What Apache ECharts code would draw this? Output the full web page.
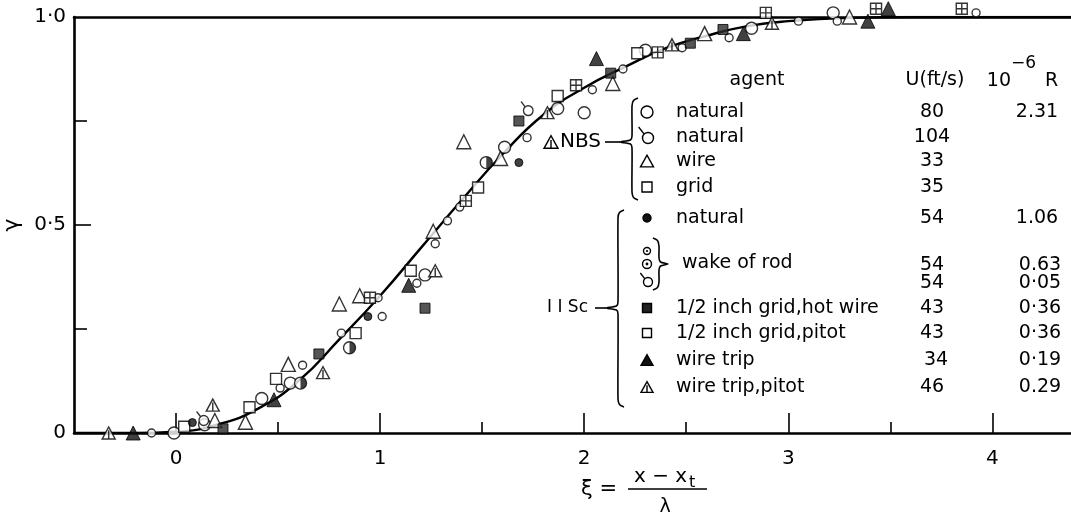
<!DOCTYPE html>
<html>
<head>
<meta charset="utf-8">
<script src="https://cdn.jsdelivr.net/npm/echarts@6/dist/echarts.min.js"></script>
<style>
  html, body { margin: 0; background: #fff; }
  #chart { width: 1071px; height: 525px; }
</style>
</head>
<body>
<div id="chart"></div>
<script>
// fitted curve
const curveXi    = [-0.5, -0.2, 0, 0.2, 0.4, 0.6, 0.8, 1.0, 1.2, 1.4, 1.6, 1.8, 2.0, 2.2, 2.4, 2.6, 2.8, 3.0, 3.3, 3.6, 4.0, 4.4];
const curveGamma = [0, 0, 0.003, 0.02, 0.058, 0.125, 0.225, 0.33, 0.445, 0.56, 0.67, 0.765, 0.83, 0.88, 0.925, 0.955, 0.978, 0.99, 0.998, 1.0, 1.0, 1.0];

// measured points [xi, gamma]
const bigCircles    = [[-0.01, 0], [0.14, 0.02], [0.42, 0.083], [0.56, 0.12], [1.22, 0.38], [1.61, 0.687], [1.87, 0.78], [2.0, 0.77], [2.3, 0.92], [2.82, 0.973], [3.22, 1.01]];
const smallCircles  = [[-0.12, 0], [0.51, 0.108], [0.62, 0.163], [0.81, 0.24], [0.99, 0.325], [1.01, 0.28], [1.18, 0.36], [1.27, 0.455], [1.33, 0.51], [1.39, 0.543], [1.72, 0.71], [2.04, 0.825], [2.19, 0.875], [2.48, 0.926], [2.71, 0.95], [3.05, 0.99], [3.24, 0.99], [3.92, 1.01]];
const tailCircles   = [[0.13, 0.035], [1.72, 0.78]];
const openTriangles = [[0.19, 0.03], [0.34, 0.026], [0.55, 0.165], [0.8, 0.31], [0.9, 0.33], [1.26, 0.485], [1.41, 0.7], [1.59, 0.66], [2.14, 0.84], [2.59, 0.96], [3.3, 1.0]];
const openSquares   = [[0.04, 0.015], [0.36, 0.062], [0.49, 0.13], [0.88, 0.24], [1.15, 0.39], [1.48, 0.59], [1.87, 0.81], [2.26, 0.913]];
const crossSquares  = [[0.95, 0.325], [1.42, 0.558], [1.96, 0.836], [2.36, 0.915], [2.89, 1.01], [3.43, 1.02], [3.85, 1.02]];
const filledDots    = [[0.08, 0.025], [0.94, 0.28], [1.68, 0.65]];
const halfCircles   = [[0.61, 0.12], [0.85, 0.205], [1.52, 0.65]];
const hotWire       = [[0.23, 0.01], [0.7, 0.19], [1.22, 0.3], [1.68, 0.75], [2.13, 0.865], [2.52, 0.937], [2.68, 0.97]];
const wireTrip      = [[-0.21, 0], [0.48, 0.08], [1.14, 0.355], [2.06, 0.9], [2.78, 0.96], [3.39, 0.99], [3.49, 1.02]];
const wireTripPitot = [[-0.33, 0], [0.18, 0.067], [0.72, 0.145], [1.27, 0.39], [1.82, 0.77], [2.43, 0.933], [2.92, 0.985]];

// axes
const xLabelValues = [0, 1, 2, 3, 4];
const xMajorTicks  = [0, 1, 2, 3, 4];
const xMinorTicks  = [0.5, 1.5, 2.5, 3.5];
const yLabelValues = [0, 0.5, 1];
const yTickLabels  = ['0', '0·5', '1·0'];
const yMajorTicks  = [0.5];
const yMinorTicks  = [0.25, 0.75];

// key table
const nbsAgents  = ['natural', 'natural', 'wire', 'grid'];
const nbsU       = ['80', '104', '33', '35'];
const nbsR       = ['2.31', '', '', ''];
const iiscAgents = ['natural', 'wake of rod', '1/2 inch grid,hot wire', '1/2 inch grid,pitot', 'wire trip', 'wire trip,pitot'];
const iiscU      = ['54', '54', '43', '43', '34', '46'];
const iiscR      = ['1.06', '0.63', '0·36', '0·36', '0·19', '0.29'];
const wakeExtraU = '54';
const wakeExtraR = '0·05';

const FONT = 'DejaVu Sans';
const INK = '#000';
const KEY = 19;

const P_TAIL = 'path://M16 13 A6 6 0 1 1 4 13 A6 6 0 1 1 16 13 Z M6.2 8.6 L1 2';
const P_TRI_LINE = 'path://M0 20 L10 2 L20 20 Z M10 7 L10 20';
const P_CROSS_SQ = 'path://M0 0 H20 V20 H0 Z M10 0 V20 M0 10 H20';
const P_HALF = 'path://M0 0 A10 10 0 0 1 0 20 Z';

const openStyle = { color: '#fff', borderColor: INK, borderWidth: 1.4 };
const solidStyle = { color: '#111', borderColor: INK, borderWidth: 1 };

function scatter(name, data, symbol, size, style, extra) {
  return Object.assign({
    name, type: 'scatter', data, symbol, symbolSize: size,
    itemStyle: style, clip: false, z: 5, silent: true
  }, extra || {});
}

// ---- key graphics ----
function txt(x, y, s, size, align, extra) {
  return Object.assign({
    type: 'text', x, y, silent: true,
    style: { text: s, fill: INK, font: `${size || KEY}px "${FONT}"`, textAlign: align || 'left', textVerticalAlign: 'middle' }
  }, extra || {});
}
function brace(x, y1, y2, ym, w, dir) {
  const d = dir || 1; // 1 = "{", -1 = "}"
  return {
    type: 'polyline', silent: true,
    shape: { points: [[x + 6 * d, y1], [x + 1.5 * d, y1 + 2.5], [x, y1 + 8], [x, ym - 6], [x - 1.5 * d, ym - 2], [x - w * d, ym], [x - 1.5 * d, ym + 2], [x, ym + 6], [x, y2 - 8], [x + 1.5 * d, y2 - 2.5], [x + 6 * d, y2]], smooth: 0.25 },
    style: { stroke: INK, lineWidth: 1.6, fill: null }
  };
}
function oCircle(cx, cy, r, fill) {
  return { type: 'circle', silent: true, shape: { cx, cy, r }, style: { fill: fill || '#fff', stroke: INK, lineWidth: 1.4 } };
}
function tri(cx, cy, s, fill, withLine) {
  const h = s * 0.9;
  const els = [{ type: 'polygon', silent: true, shape: { points: [[cx - s / 2, cy + h / 2], [cx, cy - h / 2], [cx + s / 2, cy + h / 2]] }, style: { fill: fill || '#fff', stroke: INK, lineWidth: 1.4 } }];
  if (withLine) els.push({ type: 'line', silent: true, shape: { x1: cx, y1: cy - h / 6, x2: cx, y2: cy + h / 2 }, style: { stroke: INK, lineWidth: 1.4 } });
  return els;
}
function sq(cx, cy, s, fill) {
  return { type: 'rect', silent: true, shape: { x: cx - s / 2, y: cy - s / 2, width: s, height: s }, style: { fill: fill || '#fff', stroke: INK, lineWidth: 1.4 } };
}
function tail(cx, cy, r) {
  return [oCircle(cx, cy, r), { type: 'line', silent: true, shape: { x1: cx - r * 0.7, y1: cy - r * 0.7, x2: cx - r * 1.7, y2: cy - r * 2 }, style: { stroke: INK, lineWidth: 1.4 } }];
}

const symX = 647, agentX = 676, uX = 932, rX = 1040;
const nbsY = [112, 137, 161, 187];
const iiscY = [218, 263, 308, 333, 360, 387];

const graphics = [];
// header
graphics.push(txt(757, 80, 'agent', KEY, 'center'));
graphics.push(txt(935, 80, 'U(ft/s)', KEY, 'center'));
graphics.push(txt(1011, 81, '10', KEY, 'right'));
graphics.push(txt(1011, 64, '−6', 17, 'left'));
graphics.push(txt(1045, 81, 'R', KEY, 'left'));
// NBS rows
nbsAgents.forEach((a, i) => {
  graphics.push(txt(agentX, nbsY[i], a));
  graphics.push(txt(uX, nbsY[i], nbsU[i], KEY, 'center'));
  if (nbsR[i]) graphics.push(txt(rX - 3, nbsY[i], nbsR[i], KEY, 'center'));
});
graphics.push(oCircle(symX, nbsY[0], 6));
graphics.push(...tail(symX + 1, nbsY[1] + 1, 5.5));
graphics.push(...tri(symX, nbsY[2], 13));
graphics.push(sq(symX, nbsY[3], 10));
graphics.push(brace(632, 98, 200, 142, 12));
graphics.push({ type: 'line', silent: true, shape: { x1: 605, y1: 142, x2: 620, y2: 142 }, style: { stroke: INK, lineWidth: 1.6 } });
graphics.push(...tri(551, 142, 14, '#fff', true));
graphics.push(txt(560, 142, 'NBS', 20));
// IISc rows
iiscAgents.forEach((a, i) => {
  graphics.push(txt(agentX + (i === 1 ? 6 : 0), iiscY[i], a));
  graphics.push(txt(uX + (i === 4 ? 4 : 0), iiscY[i] + (i === 1 ? 2 : 0), iiscU[i], KEY, 'center'));
  graphics.push(txt(rX + (i === 0 ? -3 : 0), iiscY[i] + (i === 1 ? 2 : 0), iiscR[i], KEY, 'center'));
});
graphics.push(txt(uX, 283, wakeExtraU, KEY, 'center'));
graphics.push(txt(rX, 283, wakeExtraR, KEY, 'center'));
graphics.push(oCircle(symX, iiscY[0], 4, '#111'));
graphics.push(oCircle(symX, 251, 3.5));
graphics.push({ type: 'circle', silent: true, shape: { cx: symX, cy: 251, r: 1.1 }, style: { fill: INK } });
graphics.push(oCircle(symX, 264, 4.5));
graphics.push({ type: 'circle', silent: true, shape: { cx: symX, cy: 264, r: 1.4 }, style: { fill: INK } });
graphics.push(...tail(symX + 1, 282, 4.5));
graphics.push(brace(659, 238, 290, 264, 9, -1));
graphics.push(sq(symX, iiscY[2], 9, '#222'));
graphics.push(sq(symX, iiscY[3], 9));
graphics.push(...tri(symX, iiscY[4], 12, '#111'));
graphics.push(...tri(symX, iiscY[5], 12, '#fff', true));
graphics.push(brace(618, 210, 407, 308, 12));
graphics.push({ type: 'line', silent: true, shape: { x1: 595, y1: 308, x2: 606, y2: 308 }, style: { stroke: INK, lineWidth: 1.6 } });
graphics.push(txt(588, 308, 'I I Sc', 17, 'right'));
// x axis name: xi = (x - x_t) / lambda
graphics.push(txt(581, 490, 'ξ =', 21));
graphics.push(txt(634, 477, 'x − x', 20));
graphics.push(txt(689, 483, 't', 16));
graphics.push({ type: 'line', silent: true, shape: { x1: 628, y1: 489, x2: 707, y2: 489 }, style: { stroke: INK, lineWidth: 1.6 } });
graphics.push(txt(665, 507, 'λ', 19, 'center'));

const chart = echarts.init(document.getElementById('chart'));

const axisLine = { show: true, onZero: false, lineStyle: { color: INK, width: 2.6 } };
const noLine = { show: false, onZero: false };

const option = {
  backgroundColor: '#fff',
  animation: false,
  grid: { left: 74, top: 17, width: 1000, height: 416, containLabel: false, outerBoundsMode: 'none' },
  xAxis: [
    {
      type: 'value', min: -0.5, max: 4.4, position: 'bottom',
      axisLine, splitLine: { show: false },
      axisTick: { show: true, inside: true, length: 20, customValues: xMajorTicks, lineStyle: { color: INK, width: 1.6 } },
      axisLabel: { customValues: xLabelValues, color: INK, fontSize: 20, fontFamily: FONT, margin: 16 }
    },
    {
      type: 'value', min: -0.5, max: 4.4, position: 'bottom',
      axisLine: noLine, splitLine: { show: false }, axisLabel: { show: false },
      axisTick: { show: true, inside: true, length: 11, customValues: xMinorTicks, lineStyle: { color: INK, width: 1.6 } }
    },
    {
      type: 'value', min: -0.5, max: 4.4, position: 'top',
      axisLine, splitLine: { show: false }, axisLabel: { show: false }, axisTick: { show: false }
    }
  ],
  yAxis: [
    {
      type: 'value', min: 0, max: 1, position: 'left',
      axisLine, splitLine: { show: false },
      axisTick: { show: true, inside: true, length: 17, customValues: yMajorTicks, lineStyle: { color: INK, width: 1.6 } },
      axisLabel: {
        customValues: yLabelValues, color: INK, fontSize: 20, fontFamily: FONT, margin: 8,
        formatter: (v) => yTickLabels[yLabelValues.indexOf(v)]
      },
      name: 'γ', nameLocation: 'middle', nameRotate: 90, nameGap: 50,
      nameTextStyle: { color: INK, fontSize: 22, fontFamily: FONT }
    },
    {
      type: 'value', min: 0, max: 1, position: 'left',
      axisLine: noLine, splitLine: { show: false }, axisLabel: { show: false },
      axisTick: { show: true, inside: true, length: 13, customValues: yMinorTicks, lineStyle: { color: INK, width: 1.6 } }
    }
  ],
  graphic: graphics,
  series: [
    {
      name: 'curve', type: 'line', smooth: 0.5, symbol: 'none', silent: true,
      data: curveXi.map((x, i) => [x, curveGamma[i]]),
      lineStyle: { color: INK, width: 2.4 }, z: 3
    },
    scatter('NBS natural 80', bigCircles, 'circle', 12, openStyle),
    scatter('small circles', smallCircles, 'circle', 8, openStyle),
    scatter('NBS natural 104', tailCircles, P_TAIL, [12, 14], openStyle),
    scatter('NBS wire', openTriangles, 'triangle', 14, openStyle),
    scatter('grid', openSquares, 'rect', 11, openStyle),
    scatter('grid crossed', crossSquares, P_CROSS_SQ, 11, openStyle),
    scatter('IISc natural', filledDots, 'circle', 8, solidStyle),
    scatter('half filled', halfCircles, 'circle', 12, openStyle),
    scatter('half filled fill', halfCircles, P_HALF, [6, 12], { color: '#111' }, { symbolOffset: [3, 0], z: 6 }),
    scatter('1/2 inch grid,hot wire', hotWire, 'rect', 10, { color: '#2a2a2a', borderColor: INK, borderWidth: 1 }),
    scatter('wire trip', wireTrip, 'triangle', 14, solidStyle),
    scatter('wire trip,pitot', wireTripPitot, P_TRI_LINE, [13, 12], openStyle)
  ]
};

chart.setOption(option);
</script>
</body>
</html>
